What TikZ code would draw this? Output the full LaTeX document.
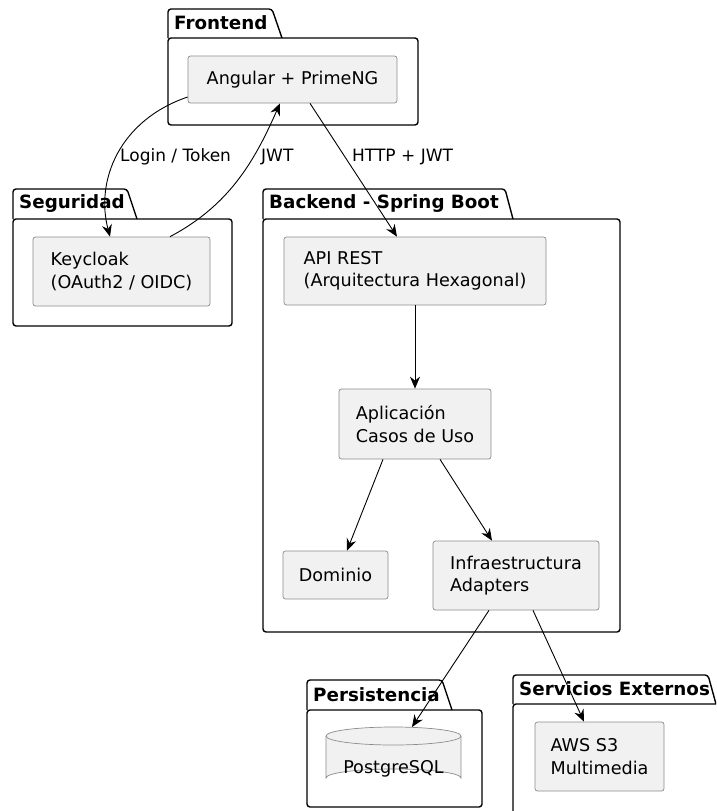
\documentclass[tikz,border=0pt]{standalone}
\usepackage{fontspec}
\setmainfont{DejaVu Sans}
\usetikzlibrary{arrows.meta}
\definecolor{nodefill}{HTML}{F1F1F1}
\definecolor{nodeline}{HTML}{8C8C8C}
\newcommand\pkgbox[7]{% x1, ytab, xtabtop, xjoin, ybody, x2, y2
  \draw[pkgline] (#1,#5) rectangle (#6,#7);
  \draw[pkgline] (#1,#5) -- (#1,#2) -- (#3,#2) -- (#4,#5);
}
\begin{document}
\begin{tikzpicture}[x=1pt,y=-1pt,
  comp/.style={draw=nodeline, fill=nodefill, rounded corners=2.5pt, line width=0.7pt,
    font=\fontsize{17.6}{22.5}\selectfont, align=left, inner sep=0pt},
  pkgline/.style={draw=black, line width=1.4pt, rounded corners=3pt},
  pkgtitle/.style={font=\bfseries\fontsize{18.3}{22}\selectfont, anchor=west, inner sep=0pt},
  arr/.style={-{Stealth[length=12pt,width=10pt,inset=4pt]}, line width=0.9pt},
  lbl/.style={font=\fontsize{17}{20}\selectfont, inner sep=0pt, anchor=west}]
\useasboundingbox (0,0) rectangle (716,811);
\begin{scope}
\clip (0,0) rectangle (716,811);
% packages
\pkgbox{168}{9}{272}{282}{38}{418}{125}
\node[pkgtitle] (tfront) at (174,23) {Frontend};
\pkgbox{13}{189}{127}{137}{219}{232}{326}
\node[pkgtitle] (tseg) at (19,204) {Seguridad};
\pkgbox{263}{189}{505}{513}{219}{620}{632}
\node[pkgtitle] (tback) at (269,204) {Backend - Spring Boot};
\pkgbox{307}{680}{442}{452}{710}{482}{807}
\node[pkgtitle] (tpers) at (313,695) {Persistencia};
\pkgbox{513}{675}{708}{716}{704}{730}{830}
\node[pkgtitle] (tserv) at (519,689) {Servicios Externos};
\end{scope}
% components
\node[comp, minimum width=209pt, minimum height=47pt] (ang) at (292.5,79.5) {Angular + PrimeNG};
\node[comp, minimum width=177pt, minimum height=69pt] (kc) at (121.5,271.5) {Keycloak\\(OAuth2 / OIDC)};
\node[comp, minimum width=262pt, minimum height=68pt] (api) at (415,271) {API REST\\(Arquitectura Hexagonal)};
\node[comp, minimum width=152pt, minimum height=70pt] (app) at (415,424) {Aplicación\\Casos de Uso};
\node[comp, minimum width=105pt, minimum height=48pt] (dom) at (335.5,575) {Dominio};
\node[comp, minimum width=166pt, minimum height=69pt] (inf) at (516,575.5) {Infraestructura\\Adapters};
\node[comp, minimum width=129pt, minimum height=69pt] (aws) at (599.5,756.5) {AWS S3\\Multimedia};
% cylinder
\draw[draw=nodeline, fill=nodefill, line width=0.7pt]
  (326,736) -- (326,778) arc[start angle=180, end angle=360, x radius=67.5, y radius=9]
  -- (461,736) arc[start angle=0, end angle=-180, x radius=67.5, y radius=9] -- cycle;
\draw[draw=nodeline, line width=0.7pt] (326,736) arc[start angle=180, end angle=360, x radius=67.5, y radius=-9];
\node[font=\fontsize{17.6}{22}\selectfont, inner sep=0pt] (pg) at (393.5,769) {PostgreSQL};
\coordinate (pgtop) at (412,727);
% connectors
\draw[arr] (ang.west |- 0,97) .. controls (120,120) and (95,180) .. (kc.north -| 110,0);
\node[lbl] (l1) at (120,157) {Login / Token};
\draw[arr] (kc.north -| 170,0) .. controls (230,205) and (255,160) .. (ang.south -| 280,0);
\node[lbl] (l2) at (261,157) {JWT};
\draw[arr] (ang.south -| 310,0) -- (api.north -| 397,0);
\node[lbl] (l3) at (352,157) {HTTP + JWT};
\draw[arr] (api) -- (app);
\draw[arr] (app.south -| 383,0) -- (dom.north -| 347,0);
\draw[arr] (app.south -| 440,0) -- (inf.north -| 492,0);
\draw[arr] (inf.south -| 489,0) -- (pgtop);
\draw[arr] (inf.south -| 533,0) -- (aws.north -| 584,0);
\end{tikzpicture}
\end{document}
